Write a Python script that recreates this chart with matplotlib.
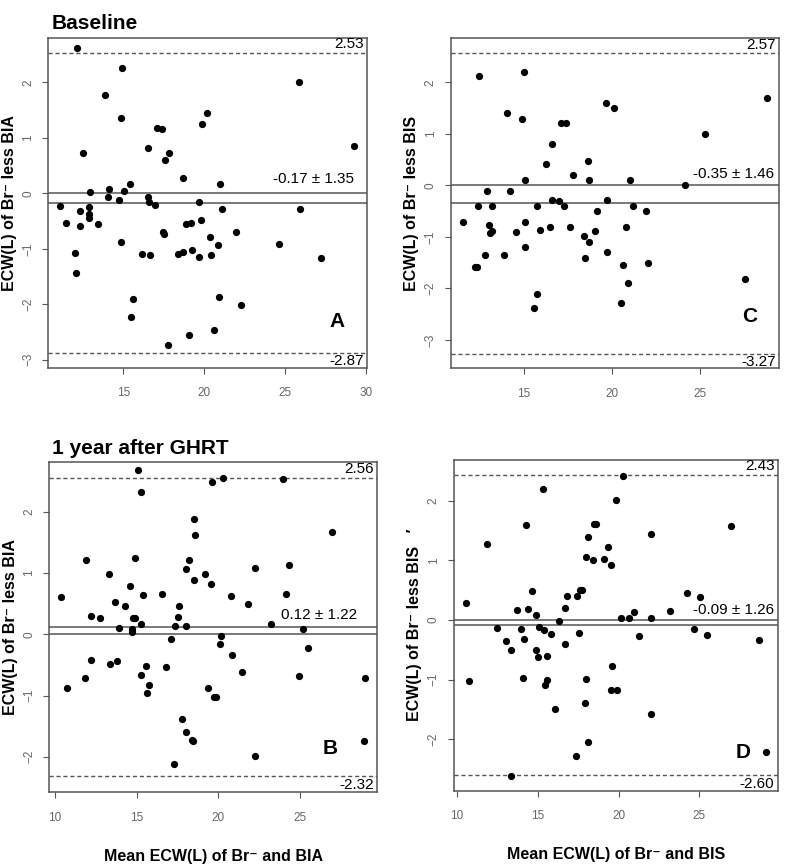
import numpy as np
import matplotlib
matplotlib.use("Agg")
import matplotlib.pyplot as plt

plt.rcParams['font.family'] = ['Liberation Sans', 'DejaVu Sans']

# Panel A: baseline, Br- vs BIA
a_x = [12.14, 14.92, 13.87, 14.88, 12.49, 16.54, 17.08, 17.39, 17.82, 17.55,
       18.70, 19.86, 20.16, 21.01, 25.86, 29.28, 12.92, 14.12, 15.04, 15.39,
       14.07, 14.71, 16.50, 16.56, 16.95, 19.65, 11.05, 12.33, 12.88, 12.84,
       21.11, 25.95, 12.84, 11.44, 12.33, 13.44, 14.88, 17.45, 17.53, 18.85,
       19.16, 19.81, 20.37, 20.84, 21.97, 24.65, 11.98, 12.06, 16.13, 16.65,
       18.40, 18.70, 19.26, 19.65, 20.41, 27.26, 15.62, 15.47, 20.93, 22.28,
       19.05, 20.60, 17.74]
a_y = [2.62, 2.26, 1.78, 1.36, 0.73, 0.81, 1.17, 1.16, 0.73, 0.60,
       0.28, 1.25, 1.44, 0.16, 2.01, 0.85, 0.02, 0.07, 0.04, 0.16,
       -0.07, -0.12, -0.06, -0.15, -0.21, -0.15, -0.23, -0.31, -0.25, -0.37,
       -0.28, -0.29, -0.45, -0.53, -0.59, -0.56, -0.87, -0.70, -0.73, -0.56,
       -0.53, -0.49, -0.78, -0.93, -0.69, -0.92, -1.07, -1.44, -1.09, -1.11,
       -1.09, -1.06, -1.02, -1.14, -1.12, -1.17, -1.90, -2.23, -1.87, -2.01,
       -2.56, -2.47, -2.74]

# Panel C: baseline, Br- vs BIS
c_x = [12.44, 15.02, 14.07, 14.92, 16.59, 17.12, 17.41, 16.29, 17.80, 18.64,
       18.73, 19.70, 20.15, 21.02, 25.28, 24.19, 28.84, 15.06, 12.94, 14.24,
       12.39, 13.20, 15.76, 16.63, 17.03, 17.27, 19.15, 19.73, 21.19, 21.93,
       11.53, 13.05, 13.09, 13.22, 14.56, 15.06, 15.95, 16.52, 17.61, 18.41,
       18.73, 19.07, 20.80, 15.09, 12.78, 13.86, 12.21, 12.32, 18.48, 19.75,
       20.66, 22.05, 20.95, 27.61, 15.74, 15.57, 20.55]
c_y = [2.12, 2.21, 1.41, 1.30, 0.81, 1.21, 1.21, 0.41, 0.21, 0.47,
       0.11, 1.61, 1.51, 0.11, 1.00, 0.00, 1.70, 0.11, -0.10, -0.10,
       -0.40, -0.40, -0.40, -0.28, -0.30, -0.40, -0.49, -0.28, -0.40, -0.49,
       -0.70, -0.77, -0.93, -0.89, -0.91, -0.70, -0.87, -0.80, -0.80, -0.98,
       -1.10, -0.89, -0.80, -1.19, -1.35, -1.35, -1.59, -1.59, -1.40, -1.29,
       -1.54, -1.50, -1.89, -1.81, -2.10, -2.37, -2.29]

# Panel B: 1 year after GHRT, Br- vs BIA
b_x = [10.39, 11.88, 12.22, 12.78, 13.31, 13.65, 13.94, 14.31, 14.61, 14.69,
       14.71, 14.80, 14.88, 14.90, 15.10, 15.27, 15.27, 15.39, 16.53, 17.08,
       17.35, 17.51, 17.61, 18.00, 18.00, 18.22, 18.51, 18.55, 18.51, 19.16,
       19.55, 19.59, 20.29, 20.14, 20.12, 20.76, 21.80, 22.27, 23.20, 23.94,
       24.14, 24.33, 25.20, 25.51, 26.96, 10.71, 11.84, 12.20, 13.35, 13.82,
       15.57, 15.27, 15.73, 15.61, 16.78, 19.39, 19.76, 19.88, 20.82, 21.47,
       24.94, 28.98, 17.80, 18.04, 18.39, 18.43, 17.29, 22.24, 28.94]
b_y = [0.61, 1.22, 0.30, 0.26, 0.99, 0.53, 0.11, 0.46, 0.79, 0.09,
       0.04, 0.26, 0.26, 1.25, 2.69, 2.33, 0.17, 0.65, 0.66, -0.07,
       0.14, 0.29, 0.46, 1.07, 0.13, 1.21, 1.89, 1.63, 0.89, 0.99,
       0.83, 2.49, 2.56, -0.03, -0.15, 0.62, 0.50, 1.08, 0.17, 2.54,
       0.66, 1.14, 0.09, -0.23, 1.67, -0.88, -0.72, -0.42, -0.48, -0.43,
       -0.51, -0.67, -0.83, -0.95, -0.54, -0.88, -1.02, -1.02, -0.34, -0.62,
       -0.68, -0.71, -1.38, -1.59, -1.72, -1.75, -2.12, -1.99, -1.75]

# Panel D: 1 year after GHRT, Br- vs BIS
d_x = [10.56, 11.85, 12.47, 13.07, 13.71, 13.98, 14.14, 14.27, 14.41, 14.68,
       14.92, 15.07, 15.32, 15.42, 15.85, 16.33, 16.72, 16.80, 16.72, 17.42,
       17.54, 17.60, 17.77, 17.97, 18.10, 18.39, 18.51, 18.63, 19.11, 19.33,
       19.56, 19.83, 20.14, 20.30, 20.63, 20.96, 21.27, 22.03, 22.01, 23.17,
       24.22, 24.65, 25.04, 25.48, 26.98, 28.71, 13.34, 14.92, 15.03, 15.58,
       10.76, 14.12, 15.44, 15.58, 16.06, 17.99, 17.93, 18.14, 17.38, 19.52,
       19.93, 19.62, 22.01, 29.12, 13.34]
d_y = [0.28, 1.27, -0.13, -0.36, 0.17, -0.15, -0.32, 1.59, 0.19, 0.49,
       0.09, -0.11, 2.19, -0.17, -0.23, -0.01, 0.20, 0.40, -0.40, 0.41,
       -0.22, 0.50, 0.50, 1.06, 1.39, 1.01, 1.61, 1.61, 1.03, 1.22,
       0.92, 2.02, 0.03, 2.42, 0.03, 0.13, -0.26, 1.44, 0.04, 0.15,
       0.45, -0.15, 0.39, -0.25, 1.57, -0.33, -0.51, -0.51, -0.62, -0.60,
       -1.03, -0.98, -1.09, -1.00, -1.50, -0.99, -1.39, -2.04, -2.28, -1.18,
       -1.17, -0.77, -1.57, -2.21, -2.62]

# mean, sd text, upper and lower limits
a_stats = (-0.17, "-0.17 \u00b1 1.35", 2.53, -2.87)
c_stats = (-0.35, "-0.35 \u00b1 1.46", 2.57, -3.27)
b_stats = (0.12, "0.12 \u00b1 1.22", 2.56, -2.32)
d_stats = (-0.09, "-0.09 \u00b1 1.26", 2.43, -2.60)

gray = '#555555'


def bland_altman(rect, x, y, stats, xlim, ylim, xticks, yticks, letter, letter_xy,
                 text_xy, ylabel, xlabel=None):
    ax = fig.add_axes(rect)
    mean, txt, hi, lo = stats
    ax.axhline(0, color=gray, lw=1.1)
    ax.axhline(mean, color=gray, lw=1.1)
    ax.axhline(hi, color=gray, lw=1, ls=(0, (3, 2)))
    ax.axhline(lo, color=gray, lw=1, ls=(0, (3, 2)))
    ax.plot(x, y, 'o', color='black', ms=4.2, mec='black')
    ax.set_xlim(*xlim)
    ax.set_ylim(*ylim)
    ax.set_xticks(xticks)
    ax.set_yticks(yticks)
    ax.tick_params(colors=gray, labelcolor='#666666', labelsize=8.5, length=4,
                   width=0.8)
    ax.tick_params(axis='x', pad=10)
    ax.tick_params(axis='y', pad=6)
    for lab in ax.get_yticklabels():
        lab.set_rotation(90)
        lab.set_va('center')
    for s in ax.spines.values():
        s.set_color(gray)
        s.set_linewidth(1.1)
    xr = xlim[1] - xlim[0]
    ax.text(xlim[1] - 0.01 * xr, hi + 0.03, "%.2f" % hi, ha='right', va='bottom',
            fontsize=11)
    ax.text(xlim[1] - 0.01 * xr, lo - 0.03, "%.2f" % lo, ha='right', va='top',
            fontsize=11)
    ax.text(text_xy[0], text_xy[1], txt, ha='right', va='center', fontsize=11)
    ax.text(letter_xy[0], letter_xy[1], letter, ha='center', va='center',
            fontsize=15, fontweight='bold')
    ax.set_ylabel(ylabel, fontsize=11.5, fontweight='bold', labelpad=4)
    if xlabel:
        ax.set_xlabel(xlabel, fontsize=11.5, fontweight='bold', labelpad=18)
    return ax


fig = plt.figure(figsize=(7.85, 8.68), dpi=100)

bland_altman([0.0611, 0.576, 0.4064, 0.3802], a_x, a_y, a_stats,
             (10.33, 30.08), (-3.15, 2.80), [15, 20, 25, 30], [-3, -2, -1, 0, 1, 2],
             "A", (28.2, -2.31), (29.3, 0.26), "ECW(L) of Br\u207b less BIA")
bland_altman([0.5741, 0.5757, 0.4186, 0.3809], c_x, c_y, c_stats,
             (10.85, 29.53), (-3.55, 2.87), [15, 20, 25], [-3, -2, -1, 0, 1, 2],
             "C", (27.82, -2.54), (29.25, 0.23), "ECW(L) of Br\u207b less BIS")
bland_altman([0.0628, 0.0872, 0.4178, 0.3802], b_x, b_y, b_stats,
             (9.65, 29.73), (-2.58, 2.81), [10, 15, 20, 25], [-2, -1, 0, 1, 2],
             "B", (26.84, -1.86), (28.5, 0.32), "ECW(L) of Br\u207b less BIA",
             "Mean ECW(L) of Br\u207b and BIA")
bland_altman([0.578, 0.0892, 0.4127, 0.3813], d_x, d_y, d_stats,
             (9.81, 29.84), (-2.86, 2.69), [10, 15, 20, 25], [-2, -1, 0, 1, 2],
             "D", (27.68, -2.22), (29.6, 0.16), "ECW(L) of Br\u207b less BIS   \u2032",
             "Mean ECW(L) of Br\u207b and BIS")

fig.text(0.066, 0.984, "Baseline", fontsize=15, fontweight='bold', va='top')
fig.text(0.066, 0.494, "1 year after GHRT", fontsize=15, fontweight='bold', va='top')

fig.savefig("out.png", dpi=100)
